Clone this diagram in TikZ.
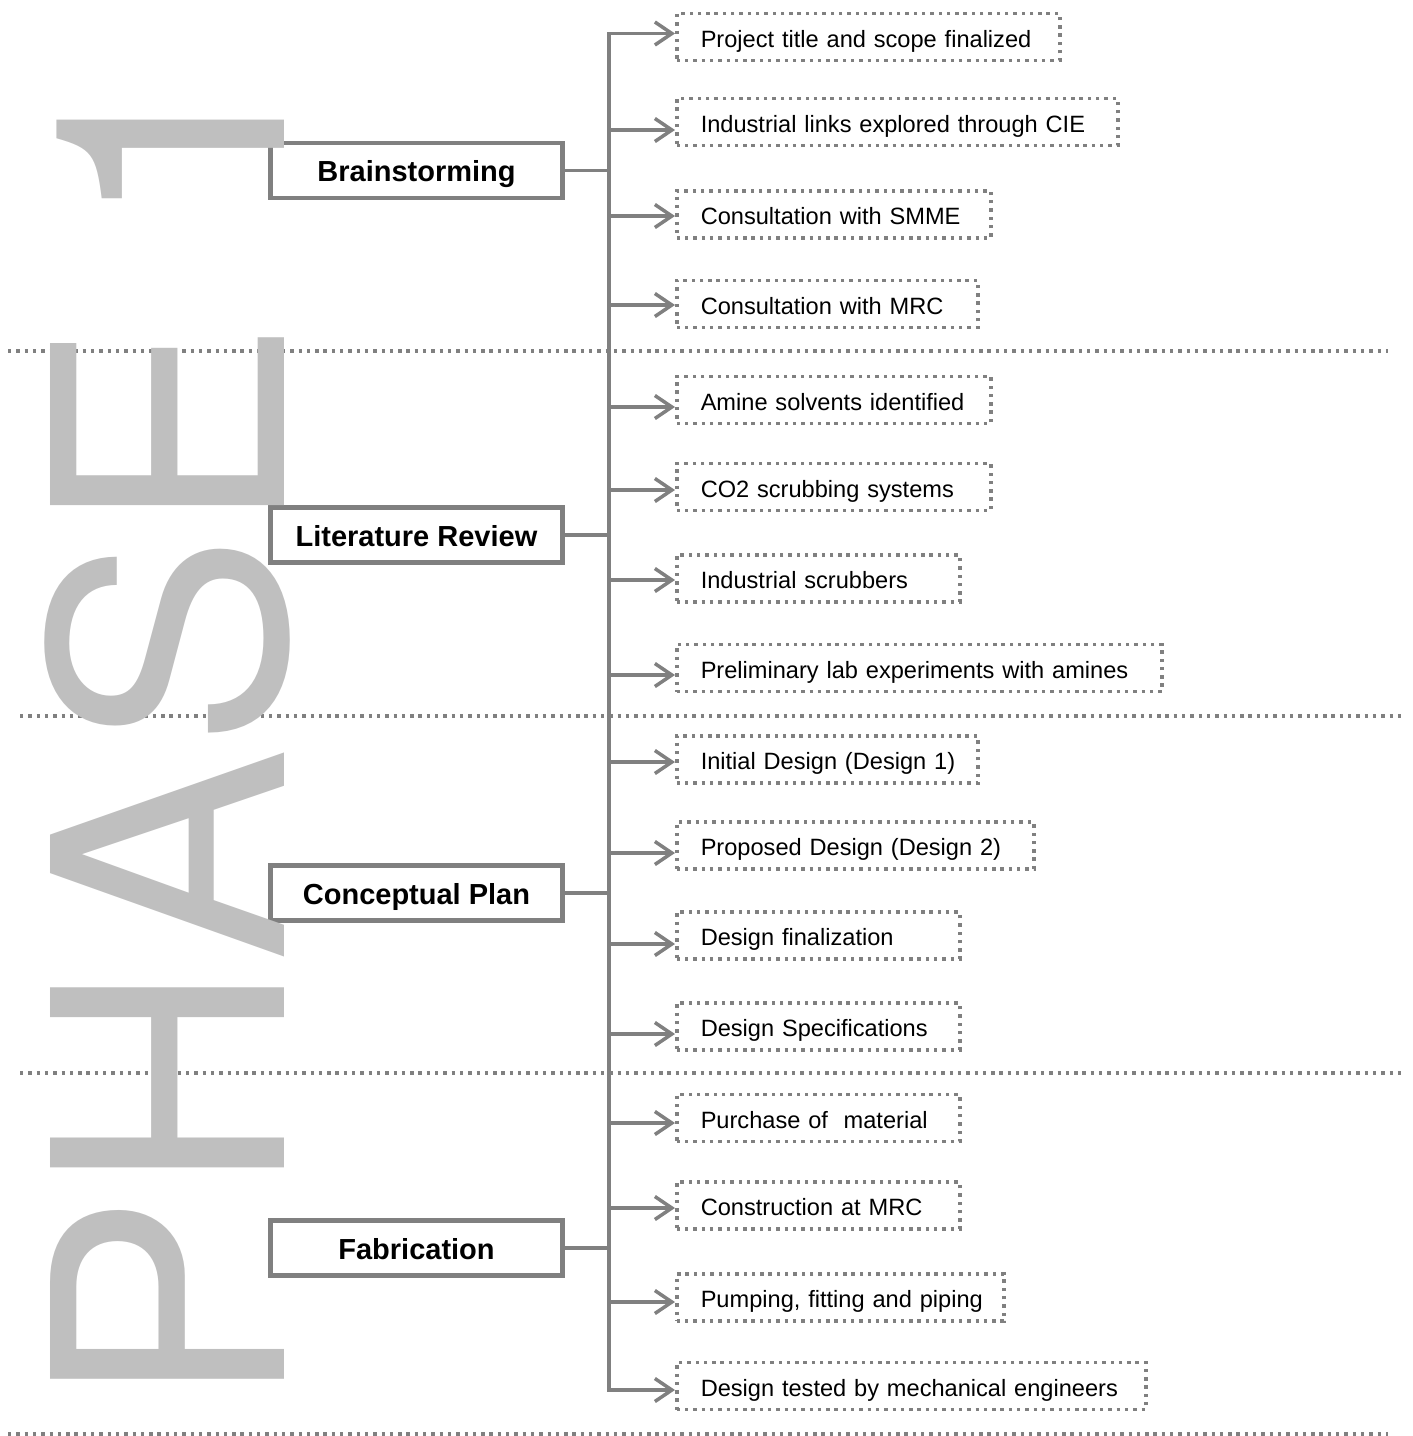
\documentclass[tikz,border=0pt]{standalone}
\usepackage{fontspec}
\setmainfont{Liberation Sans}
\newfontfamily\phasefont{TeX Gyre Heros}
\usetikzlibrary{arrows.meta}
\definecolor{linegray}{RGB}{128,128,128}
\definecolor{phasegray}{RGB}{191,191,191}
\tikzset{phasebox/.style={draw=linegray,line width=4.3pt,fill=white,minimum width=292pt,minimum height=55pt,inner sep=0pt,
  text height=22pt,text depth=0pt,font=\bfseries\fontsize{29}{34}\selectfont},
 taskbox/.style={draw=linegray,line width=3.5pt,dash pattern=on 3.4pt off 4.9pt,minimum height=47pt,inner xsep=24pt,inner ysep=0pt,
  text height=24pt,text depth=4pt,align=left,anchor=west,font=\fontsize{23.6}{28}\selectfont},
 link/.style={draw=linegray,line width=3.5pt},
 arrow/.style={link,-{Straight Barb[length=17pt,width=23pt]}},
 sepline/.style={draw=linegray,line width=3.4pt,dash pattern=on 3.4pt off 4.9pt},
 bigtext/.style={text=phasegray,inner sep=0pt,font=\phasefont\fontsize{321}{321}\selectfont}}
\newcommand{\taskitem}[5]{% node name, box centre y, arrow y, box width, text
 \pgfmathsetmacro{\tw}{#4-48}
 \node[taskbox,text width=\tw pt] (#1) at (675,#2) {\mbox{#5}};
 \draw[arrow] (trunk |- 0,#3) -- (#1.west |- 0,#3);
}

\begin{document}
\begin{tikzpicture}[x=1pt,y=-1pt]
 \useasboundingbox (0,0) rectangle (1413,1436);
 \coordinate (trunk) at (609,0);
 \draw[sepline] (8,351)--(1388,351);
 \draw[sepline] (20,716)--(1403,716);
 \draw[sepline] (20,1073)--(1403,1073);
 \draw[sepline] (8,1434)--(1388,1434);
 \node[phasebox] (brain) at (416.5,170.5) {Brainstorming};
 \node[phasebox] (litrev) at (416.5,535) {Literature Review};
 \node[phasebox] (concept) at (416.5,893) {Conceptual Plan};
 \node[phasebox] (fab) at (416.5,1248) {Fabrication};
 \draw[link,line cap=rect] (trunk |- 0,33.5)--(trunk |- 0,1390);
 \draw[link] (brain.east)--(brain.east -| trunk);
 \draw[link] (litrev.east)--(litrev.east -| trunk);
 \draw[link] (concept.east)--(concept.east -| trunk);
 \draw[link] (fab.east)--(fab.east -| trunk);
 \taskitem{t1}{37}{33.5}{383}{Project title and scope finalized}
 \taskitem{t2}{122}{130}{441}{Industrial links explored through CIE}
 \taskitem{t3}{214.5}{216}{314}{Consultation with SMME}
 \taskitem{t4}{304}{305}{301}{Consultation with MRC}
 \taskitem{t5}{400}{407}{314}{Amine solvents identified}
 \taskitem{t6}{487}{490}{314}{CO2 scrubbing systems}
 \taskitem{t7}{578.5}{580}{283}{Industrial scrubbers}
 \taskitem{t8}{668}{675}{485}{Preliminary lab experiments with amines}
 \taskitem{t9}{759.5}{762}{301}{Initial Design (Design 1)}
 \taskitem{t10}{845.5}{853}{357}{Proposed Design (Design 2)}
 \taskitem{t11}{935.5}{944}{283}{Design finalization}
 \taskitem{t12}{1026.5}{1034}{283}{Design Specifications}
 \taskitem{t13}{1118}{1123}{283}{Purchase of~ material}
 \taskitem{t14}{1205.5}{1208}{283}{Construction at MRC}
 \taskitem{t15}{1297.5}{1302}{327}{Pumping, fitting and piping}
 \taskitem{t16}{1386}{1390}{469}{Design tested by mechanical engineers}
 \node[bigtext,rotate=90,anchor=base west] (phase) at (284,1409) {PHASE 1};
\end{tikzpicture}
\end{document}
